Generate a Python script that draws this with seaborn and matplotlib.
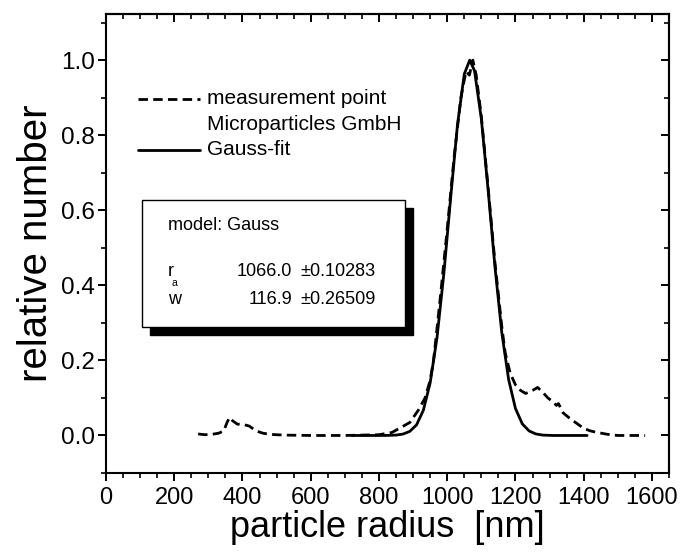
import matplotlib
matplotlib.use("Agg")
import matplotlib.pyplot as plt
import seaborn as sns
import pandas as pd
from matplotlib.lines import Line2D
from matplotlib.patches import Rectangle
from matplotlib.ticker import MultipleLocator, FormatStrFormatter

# ---- data ----
meas_x = [270, 290, 310, 330, 345, 355, 362, 370, 385, 400, 420, 440, 460, 480, 520, 600, 700, 800,
          838, 862, 891, 915, 935, 950, 960, 980, 1000, 1020, 1040, 1055, 1065, 1075, 1085, 1100,
          1120, 1140, 1160, 1170, 1185, 1200, 1215, 1230, 1250, 1265, 1280, 1295, 1310, 1320, 1326,
          1340, 1360, 1380, 1400, 1420, 1440, 1470, 1500, 1540, 1580]
meas_y = [0.004, 0.002, 0.003, 0.006, 0.012, 0.035, 0.048, 0.04, 0.03, 0.03, 0.025, 0.012, 0.006, 0.003,
          0.001, 0.0, 0.0, 0.002, 0.008, 0.02, 0.035, 0.067, 0.1, 0.147, 0.2, 0.37, 0.55, 0.74, 0.9,
          0.97, 0.96, 1.0, 0.96, 0.85, 0.66, 0.46, 0.29, 0.22, 0.165, 0.135, 0.12, 0.112, 0.12, 0.128,
          0.115, 0.1, 0.09, 0.08, 0.085, 0.06, 0.045, 0.032, 0.019, 0.012, 0.008, 0.003, 0.0, 0.0, 0.0]

fit_x = [720, 780, 820, 850, 870, 890, 910, 930, 950, 970, 990, 1010, 1030, 1050, 1066, 1080, 1100,
         1120, 1140, 1160, 1180, 1200, 1220, 1240, 1260, 1280, 1310, 1410]
fit_y = [0.0, 0.0, 0.0001, 0.001, 0.0036, 0.0107, 0.028, 0.067, 0.14, 0.26, 0.43, 0.632, 0.827, 0.963,
         1.0, 0.972, 0.844, 0.653, 0.449, 0.274, 0.149, 0.072, 0.031, 0.012, 0.004, 0.001, 0.0, 0.0]

legend_labels = ["measurement point", "Microparticles GmbH", "Gauss-fit"]
box_title = "model: Gauss"
param_names = ["r", "w"]
param_values = ["1066.0", "116.9"]
param_errors = ["\u00b10.10283", "\u00b10.26509"]

x_ticks = [0, 200, 400, 600, 800, 1000, 1200, 1400, 1600]
y_ticks = [0.0, 0.2, 0.4, 0.6, 0.8, 1.0]

# ---- style ----
sns.set_style("ticks")
plt.rcParams["font.family"] = ["Liberation Sans", "DejaVu Sans"]
for k in ["text.color", "axes.labelcolor", "xtick.color", "ytick.color", "axes.edgecolor"]:
    plt.rcParams[k] = "black"

W, H = 685, 560
fig = plt.figure(figsize=(W / 100, H / 100), dpi=100)
ax = fig.add_axes([106 / W, 1 - 473 / H, (669 - 106) / W, (473 - 14) / H])

def fx(px):
    return px / W

def fy(py):
    return 1 - py / H

meas_df = pd.DataFrame({"x": meas_x, "y": meas_y})
fit_df = pd.DataFrame({"x": fit_x, "y": fit_y})

sns.lineplot(data=meas_df, x="x", y="y", ax=ax, color="black", lw=2.0,
             sort=False, estimator=None)
ax.lines[-1].set_dashes((3.4, 1.9))
sns.lineplot(data=fit_df, x="x", y="y", ax=ax, color="black", lw=2.0,
             sort=False, estimator=None)

ax.set_xlim(0, 1650)
ax.set_ylim(-0.1, 1.123)
ax.set_xticks(x_ticks)
ax.set_yticks(y_ticks)
ax.xaxis.set_minor_locator(MultipleLocator(50))
ax.yaxis.set_minor_locator(MultipleLocator(0.1))
ax.yaxis.set_major_formatter(FormatStrFormatter("%.1f"))

for s in ax.spines.values():
    s.set_visible(True)
    s.set_linewidth(1.5)
    s.set_color("black")

ax.tick_params(which="major", direction="out", length=6, width=1.4, color="black")
ax.tick_params(which="minor", direction="out", length=3.5, width=1.2, color="black")
ax.tick_params(axis="x", labelsize=17, pad=4)
ax.tick_params(axis="y", labelsize=17.5, pad=2)

top = ax.secondary_xaxis("top")
top.set_xticks(x_ticks)
top.xaxis.set_minor_locator(MultipleLocator(50))
top.tick_params(which="major", direction="in", length=6, width=1.4, labeltop=False)
top.tick_params(which="minor", direction="in", length=3.5, width=1.2)
top.spines["top"].set_linewidth(1.5)

right = ax.secondary_yaxis("right")
right.set_yticks(y_ticks)
right.yaxis.set_minor_locator(MultipleLocator(0.1))
right.tick_params(which="major", direction="in", length=6, width=1.4, labelright=False)
right.tick_params(which="minor", direction="in", length=3.5, width=1.2)
right.spines["right"].set_linewidth(1.5)

ax.set_xlabel("particle radius  [nm]", fontsize=26, labelpad=1)
ax.set_ylabel("relative number", fontsize=29, labelpad=4)

# ---- legend (drawn manually) ----
fig.add_artist(Line2D([fx(138), fx(200)], [fy(99), fy(99)], color="black", lw=2.0,
                      dashes=(3.4, 1.9), transform=fig.transFigure))
fig.add_artist(Line2D([fx(138), fx(200)], [fy(150), fy(150)], color="black", lw=2.0,
                      transform=fig.transFigure))
fig.text(fx(207), fy(99), legend_labels[0], fontsize=15, va="center", ha="left")
fig.text(fx(207), fy(125), legend_labels[1], fontsize=15, va="center", ha="left")
fig.text(fx(207), fy(150), legend_labels[2], fontsize=15, va="center", ha="left")

# ---- parameter box with shadow ----
bx0, by0, bx1, by1 = 142, 200, 405, 327
sh = 8
fig.add_artist(Rectangle((fx(bx0 + sh), fy(by1 + sh)), fx(bx1 - bx0), (by1 - by0) / H,
                         facecolor="black", edgecolor="black", transform=fig.transFigure))
fig.add_artist(Rectangle((fx(bx0), fy(by1)), fx(bx1 - bx0), (by1 - by0) / H,
                         facecolor="white", edgecolor="black", lw=1.0, transform=fig.transFigure))
fig.text(fx(168), fy(226), box_title, fontsize=13, va="center", ha="left")
rows_y = [272, 299]
for i in range(2):
    fig.text(fx(168), fy(rows_y[i]), param_names[i], fontsize=13, va="center", ha="left")
    fig.text(fx(292), fy(rows_y[i]), param_values[i], fontsize=13, va="center", ha="right")
    fig.text(fx(300), fy(rows_y[i]), param_errors[i], fontsize=13, va="center", ha="left")
fig.text(fx(172), fy(283), "a", fontsize=7.5, va="center", ha="left")

fig.savefig("out.png", dpi=100)
